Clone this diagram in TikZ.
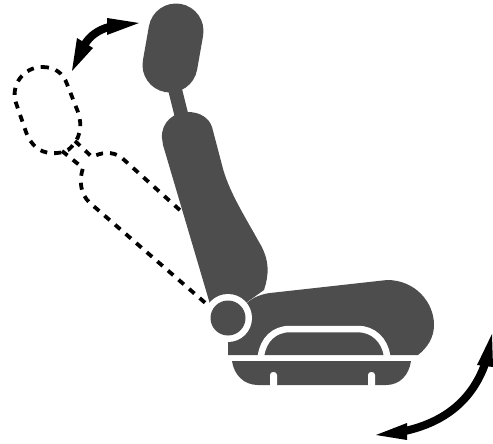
\documentclass[tikz,border=0pt]{standalone}
\definecolor{seatgray}{HTML}{4D4D4D}
\tikzset{
  seatpart/.style={fill=seatgray, draw=none},
  gappart/.style={fill=white, draw=none},
  ghostline/.style={draw=black, line width=3.8pt, dash pattern=on 7pt off 7pt},
  swingarrow/.style={fill=black, draw=none},
}
\begin{document}
\begin{tikzpicture}[x=1pt, y=-1pt]
\useasboundingbox (0,0) rectangle (493,444);
% Dashed outlines
\draw[ghostline] (42,67) .. controls (55,67) and (63,73) .. (67,84) -- (78,112)
  .. controls (83,127) and (80,140) .. (68,150) .. controls (58,155) and (44,154) .. (37,148)
  .. controls (31,143) and (28,138) .. (26,132) -- (16,103) .. controls (10,85) and (24,67) .. (42,67);
\draw[ghostline] (75,141) -- (92,157) .. controls (100,153) and (112,150) .. (122,158) -- (182,212);
\draw[ghostline] (62,151) -- (83,168) .. controls (79,180) and (80,194) .. (90,203) -- (210,307);
% Headrest
\draw[line width=55pt, seatgray, line cap=round] (176,31) -- (170,65);
\fill[seatpart] (168,90) -- (182,89) -- (188,113) -- (175,118) -- cycle;
% Backrest
\fill[seatpart] (162,138) .. controls (161,122) and (174,112) .. (188,112)
  .. controls (200,112) and (209,118) .. (212,127) -- (222,165)
  .. controls (228,190) and (244,215) .. (259,242)
  .. controls (270,260) and (269,275) .. (264,290) -- (236,310) -- (210,304) -- (163,145) -- cycle;
% Cushion
\fill[seatpart] (228,355) -- (228,318) -- (248,302) .. controls (254,297) and (262,294) .. (270,293)
  -- (387,280) .. controls (415,280) and (434,302) .. (434,325)
  .. controls (434,338) and (427,348) .. (418,355) -- cycle;
% Hinge
\fill[gappart] (228,318) circle[radius=24];
\fill[seatpart] (228,318) circle[radius=17.5];
% Arch in the cushion
\draw[white, line width=6.5pt] (261,356) .. controls (263,340) and (274,329) .. (290,329)
  -- (358,329) .. controls (373,329) and (385,340) .. (387,356);
% Base
\fill[seatpart] (232,361) -- (411,361) .. controls (409,375) and (400,385) .. (386,385)
  -- (258,385) .. controls (244,385) and (234,375) .. (232,361) -- cycle;
\fill[gappart] (270,386) -- (270,375) .. controls (270,371) and (277,371) .. (277,375) -- (277,386) -- cycle;
\fill[gappart] (368,386) -- (368,375) .. controls (368,371) and (375,371) .. (375,375) -- (375,386) -- cycle;
% Upper arrow
\draw[line width=8pt] (85,44) .. controls (90,36) and (98,30) .. (109,27);
\fill[swingarrow] (139,23) -- (107,18) -- (107,35) -- cycle;
\fill[swingarrow] (72,71) -- (77,38) -- (93,48) -- cycle;
% Lower arrow
\draw[line width=8pt] (485,364) .. controls (472,400) and (445,422) .. (405,431);
\fill[swingarrow] (492,334) -- (477,365) -- (493,367) -- cycle;
\fill[swingarrow] (376,435) -- (407,423) -- (407,440) -- cycle;
\end{tikzpicture}
\end{document}
